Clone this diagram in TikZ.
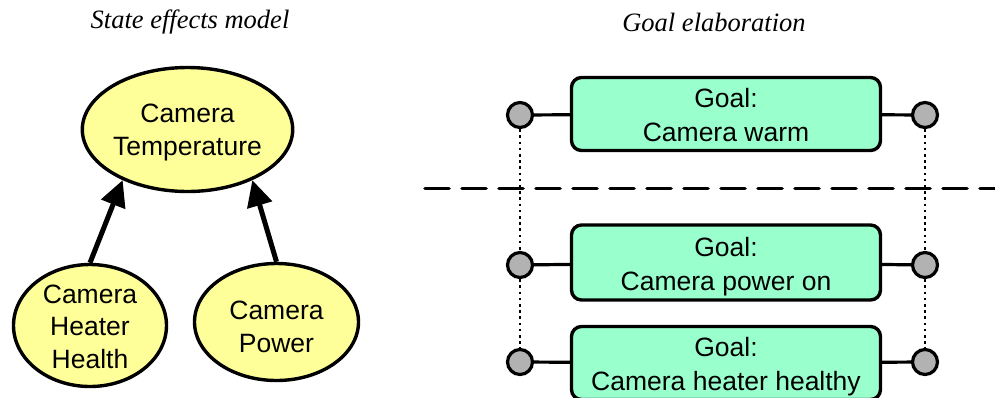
\documentclass[tikz,border=0pt]{standalone}
\usepackage{fontspec}
\setmainfont{Liberation Sans}
\newfontfamily\titlefont{Liberation Serif}
\usetikzlibrary{shapes.geometric,arrows.meta}
\definecolor{stateyellow}{HTML}{FFFF99}
\definecolor{goalgreen}{HTML}{99FFCC}
\definecolor{portgray}{HTML}{B2B2B2}
% stacked lines whose last baseline sits #1 above the node centre
\newcommand\nodelines[2]{\raisebox{#1}[0pt][0pt]{\begin{tabular}[b]{@{}c@{}}#2\end{tabular}}}
\begin{document}
\begin{tikzpicture}[x=1pt,y=-1pt,
  heading/.style={font=\titlefont\itshape\fontsize{26.5}{32}\selectfont, inner sep=0pt},
  statenode/.style={ellipse, draw, line width=3.4pt, fill=stateyellow, inner sep=0pt,
                    font=\fontsize{26.5}{32.5}\selectfont},
  goalbox/.style={draw, line width=3.4pt, fill=goalgreen, rounded corners=10pt,
                  minimum width=309pt, minimum height=73pt, inner sep=0pt,
                  font=\fontsize{26.5}{34}\selectfont},
  port/.style={circle, draw, line width=3.2pt, fill=portgray, minimum size=25pt, inner sep=0pt},
  link/.style={line width=3.2pt},
  effect/.style={line width=5pt, -{Triangle[length=26pt,width=25pt]}},
  trace/.style={line width=2.6pt, dash pattern=on 2.6pt off 3.6pt},
  split/.style={line width=3.6pt, line cap=round, dash pattern=on 24pt off 13pt}]
\useasboundingbox (0,0) rectangle (995,397);
\clip (0,0) rectangle (995,397);

% ---- state effects model ----
\node[heading] (t1) at (190,22) {State effects model};
\node[statenode, minimum width=164pt, minimum height=124pt] (ct) at (187.5,129.5)
  {\nodelines{-25.5pt}{Camera\\Temperature}};
\node[statenode, minimum width=153pt, minimum height=122pt] (hh) at (90,325.5)
  {\nodelines{-42.5pt}{Camera\\Heater\\Health}};
\node[statenode, minimum width=164pt, minimum height=117pt] (cp) at (276.5,322)
  {\nodelines{-30pt}{Camera\\Power}};
\draw[effect] (hh.north) -- (ct.218);
\draw[effect] (cp.north) -- (ct.-38);

% ---- goal elaboration ----
\node[heading] (t2) at (714,22) {Goal elaboration};

\coordinate (sl) at (425,188.5);
\coordinate (sr) at (1000,188.5);

\node[goalbox] (g1) at (726,114) {\nodelines{-27.5pt}{Goal:\\Camera warm}};
\node[goalbox, minimum height=75pt] (g2) at (726,262.5) {\nodelines{-27.5pt}{Goal:\\Camera power on}};
\node[goalbox] (g3) at (726,363) {\nodelines{-27.5pt}{Goal:\\Camera heater healthy}};

\node[port] (l1) at (520,115) {};
\node[port] (r1) at (925,115) {};
\node[port] (l2) at (520,265) {};
\node[port] (r2) at (925,265) {};
\node[port] (l3) at (520,362) {};
\node[port] (r3) at (925,362) {};

\draw[trace] (l1.south) -- (l2.north);
\draw[trace] (r1.south) -- (r2.north);
\draw[trace] (l2.south) -- (l3.north);
\draw[trace] (r2.south) -- (r3.north);

\draw[split] (sl) -- (sr);

\draw[link] (l1) -- (g1);
\draw[link] (g1) -- (r1);
\draw[link] (l2) -- (g2);
\draw[link] (g2) -- (r2);
\draw[link] (l3) -- (g3);
\draw[link] (g3) -- (r3);
\end{tikzpicture}
\end{document}
